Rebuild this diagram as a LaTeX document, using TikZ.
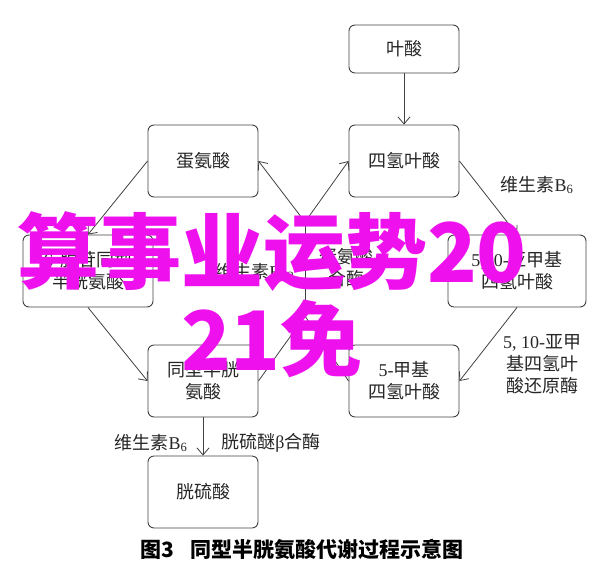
\documentclass[tikz,border=0pt]{standalone}
\usepackage{fontspec}
\setmainfont{Liberation Serif}
\newfontfamily\cjk{Noto Sans CJK SC}
\usetikzlibrary{arrows.meta, positioning}

\definecolor{wmark}{RGB}{238,17,238}
\newcommand{\lat}[1]{{\rmfamily #1}}

\begin{document}
\begin{tikzpicture}[
    x=1pt, y=-1pt,
    >={Straight Barb[length=7pt, width=12pt]},
    node distance=110pt and 201pt,
    on grid,
    every node/.style={font=\cjk\fontsize{18}{22}\selectfont, text=black!85},
    box/.style={draw=black!75, rounded corners=6pt, line width=0.9pt,
        minimum width=110pt, minimum height=72pt, align=center},
    link/.style={draw=black!75, line width=0.8pt},
]
    \useasboundingbox (0,0) rectangle (600,574);

    \node[box]                                    (met)  at (203,161) {蛋氨酸};
    \node[box, right=of met]                      (thf)  {四氢叶酸};
    \node[box, above=112pt of thf, minimum height=48pt] (fol) {叶酸};
    \node[box, below=220pt of met]                (hcy)  {同型半胱\\氨酸};
    \node[box, below=220pt of thf]                (mthf) {\lat{5-}甲基\\四氢叶酸};
    \node[box, below=111pt of hcy]                (cys)  {胱硫酸};
    \node[box, minimum width=130pt]               (sah)  at (88,271)  {\lat{S-}腺苷同型\\半胱氨酸};
    \node[box, minimum width=138pt]               (mtl)  at (517,271) {\lat{5,10-}亚甲基\\四氢叶酸};

    \coordinate (up) at (305,222);
    \coordinate (dn) at (305,316);

    \draw[link, ->] (fol)        -- (thf);
    \draw[link, ->] (thf.east)   -- (mtl.north);
    \draw[link, ->] (mtl.south)  -- (mthf.east);
    \draw[link, ->] (met.west)   -- (sah.north);
    \draw[link, ->] (sah.south)  -- (hcy.west);
    \draw[link, ->] (hcy)        -- (cys);
    \draw[link]     (hcy.east)   -- (dn) -- (mthf.west);
    \draw[link]     (dn)         -- (up);
    \draw[link, ->] (up)         -- (met.east);
    \draw[link, ->] (up)         -- (thf.west);

    % enzyme and cofactor labels
    \node (b6a)  at (537,185) {维生素\lat{B\textsubscript{6}}};
    \node[align=center] (mtr) at (542,364) {\lat{5, 10-}亚甲\\基四氢叶\\酸还原酶};
    \node[anchor=east] (b12) at (298,272) {维生素\lat{B\textsubscript{12}}};
    \node[align=center] (ms) at (346,268) {蛋氨酸\\合酶};
    \node (b6b)  at (151,443) {维生素\lat{B\textsubscript{6}}};
    \node (cbs)  at (271,443) {胱硫醚\lat{β}合酶};

    \node[font=\cjk\bfseries\fontsize{21}{25}\selectfont, text=black] (cap) at (302,549)
        {图3\hspace{16pt}同型半胱氨酸代谢过程示意图};

    % overlay
    \node[align=center, text=wmark, font=\cjk\bfseries\fontsize{82}{88}\selectfont] (wm) at (272,295)
        {算事业运势20\\21免};
\end{tikzpicture}
\end{document}
